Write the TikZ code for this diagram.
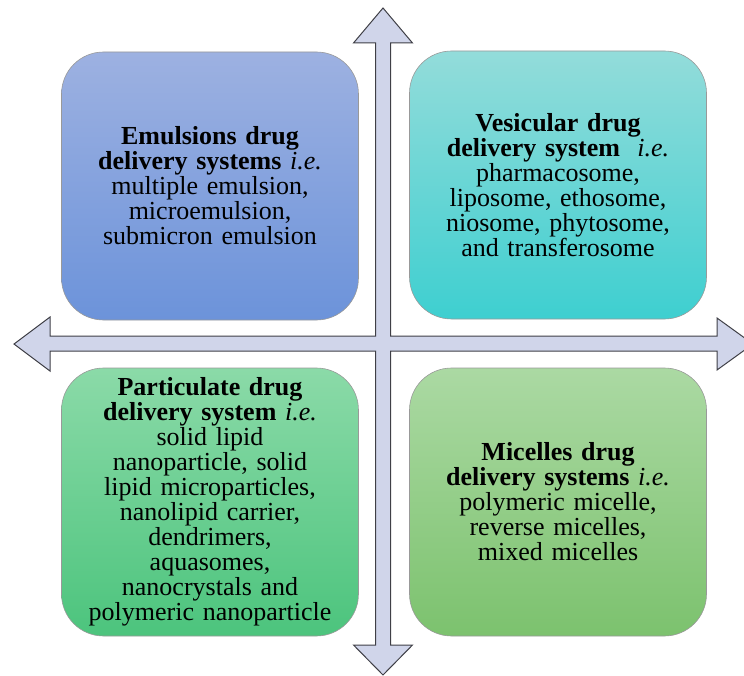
\documentclass[tikz,border=0pt]{standalone}
\usepackage{fontspec}
\setmainfont{Liberation Serif}
\definecolor{crossfill}{HTML}{D0D5EA}
\definecolor{crossline}{HTML}{3F3F46}
\definecolor{emultop}{HTML}{9DB1E1}
\definecolor{emulbot}{HTML}{6C93DA}
\definecolor{vesitop}{HTML}{93DCDA}
\definecolor{vesibot}{HTML}{3ECFD0}
\definecolor{parttop}{HTML}{8BDAA8}
\definecolor{partbot}{HTML}{4CC47D}
\definecolor{micetop}{HTML}{ABD9A3}
\definecolor{micebot}{HTML}{7CC26E}
\begin{document}
\begin{tikzpicture}[x=1pt,y=-1pt,
		quad/.style={draw=gray!80,line width=0.6pt,rounded corners=42pt,inner sep=0pt,
			minimum width=297pt,minimum height=268pt,text width=290pt,align=center,
			font=\fontsize{26}{25}\selectfont}]
		\useasboundingbox (0,0) rectangle (744,676);
		% four-way arrow behind the boxes
		\draw[fill=crossfill,draw=crossline,line width=1pt,line join=miter]
			(383,8) -- (412.5,43) -- (390.5,43) -- (390.5,336) -- (717,336) -- (717,318)
			-- (753,344) -- (717,370) -- (717,351) -- (390.5,351) -- (390.5,645)
			-- (412.5,645) -- (383,675) -- (353.5,645) -- (375.5,645) -- (375.5,351)
			-- (50,351) -- (50,371) -- (14,344) -- (50,317) -- (50,336) -- (375.5,336)
			-- (375.5,43) -- (353.5,43) -- cycle;
		\node[quad,top color=emultop,bottom color=emulbot] (emul) at (210,186)
			{\textbf{Emulsions drug}\\ \textbf{delivery systems} \textit{i.e.}\\ multiple emulsion,\\ microemulsion,\\ submicron emulsion};
		\node[quad,top color=vesitop,bottom color=vesibot] (vesi) at (558,185)
			{\textbf{Vesicular drug}\\ \textbf{delivery system}\ \ \textit{i.e.}\\ pharmacosome,\\ liposome, ethosome,\\ niosome, phytosome,\\ and transferosome};
		\node[quad,top color=parttop,bottom color=partbot] (part) at (210,502)
			{\textbf{Particulate drug}\\ \textbf{delivery system} \textit{i.e.}\\ solid lipid\\ nanoparticle, solid\\ lipid microparticles,\\ nanolipid carrier,\\ dendrimers,\\ aquasomes,\\ nanocrystals and\\ polymeric nanoparticle};
		\node[quad,top color=micetop,bottom color=micebot] (mice) at (558,502)
			{\textbf{Micelles drug}\\ \textbf{delivery systems} \textit{i.e.}\\ polymeric micelle,\\ reverse micelles,\\ mixed micelles};
	\end{tikzpicture}
\end{document}
